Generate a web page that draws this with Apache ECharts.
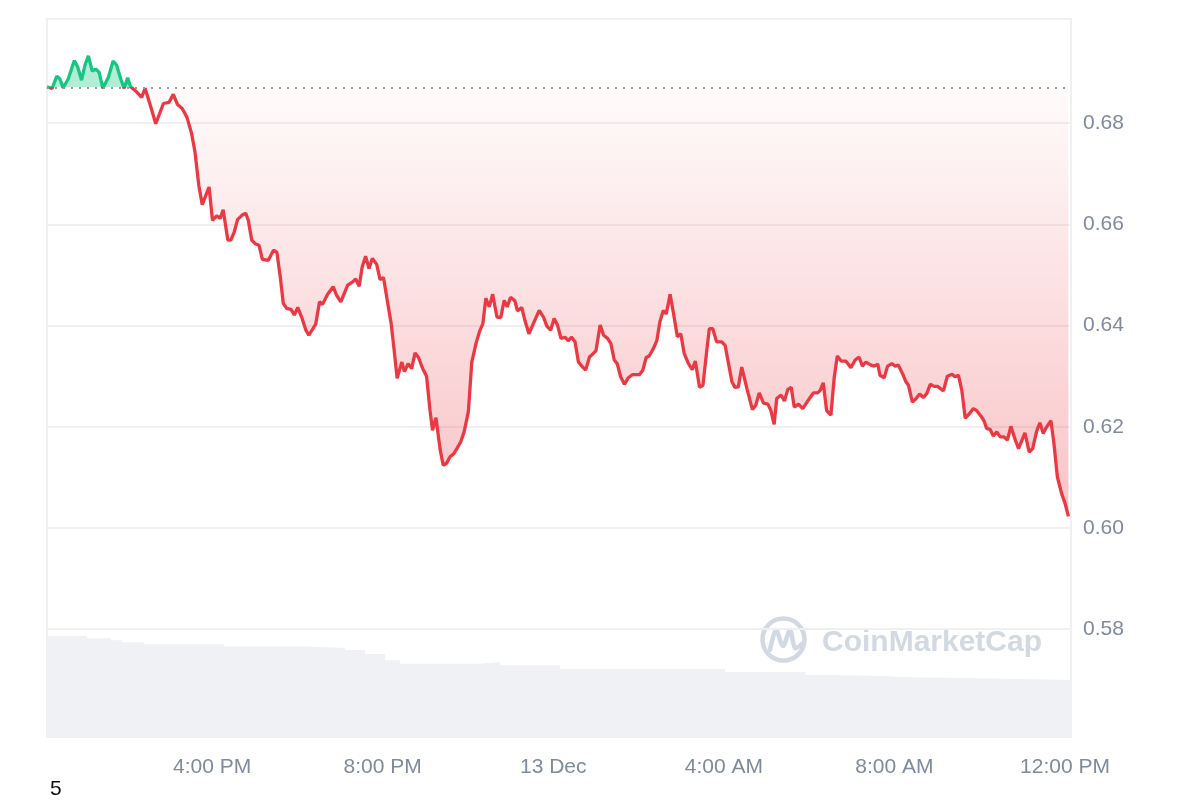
<!DOCTYPE html>
<html>
<head>
<meta charset="utf-8">
<title>Price chart</title>
<script src="https://cdn.jsdelivr.net/npm/echarts@6/dist/echarts.min.js"></script>
<style>
  html, body { margin: 0; padding: 0; background: #fff; }
  #chart { width: 1200px; height: 800px; }
</style>
</head>
<body>
<div id="chart"></div>
<script>
// price: hour of day (Dec 12, >24 = Dec 13) and value
const times = [
  12.13, 12.25, 12.36, 12.43, 12.51, 12.63, 12.77, 12.85, 12.94, 13.02, 13.10, 13.19, 13.27, 13.35, 13.44,
  13.57, 13.68, 13.76, 13.87, 13.94, 14.02, 14.09, 14.23, 14.35, 14.43, 14.55, 14.68, 14.86, 14.99, 15.09,
  15.19, 15.30, 15.41, 15.52, 15.60, 15.69, 15.77, 15.93, 16.01, 16.11, 16.19, 16.26, 16.37, 16.44, 16.52,
  16.60, 16.70, 16.79, 16.85, 16.93, 17.01, 17.10, 17.18, 17.32, 17.44, 17.52, 17.60, 17.67, 17.75, 17.85,
  17.93, 18.01, 18.10, 18.20, 18.27, 18.43, 18.52, 18.59, 18.71, 18.84, 18.92, 19.02, 19.18, 19.29, 19.37,
  19.45, 19.52, 19.60, 19.68, 19.76, 19.86, 19.94, 20.02, 20.10, 20.20, 20.27, 20.34, 20.45, 20.51, 20.60,
  20.68, 20.76, 20.84, 20.94, 21.03, 21.11, 21.17, 21.25, 21.35, 21.42, 21.50, 21.58, 21.67, 21.74, 21.83,
  21.91, 22.01, 22.09, 22.19, 22.27, 22.35, 22.42, 22.50, 22.58, 22.68, 22.77, 22.85, 22.92, 23.00, 23.10,
  23.16, 23.26, 23.34, 23.43, 23.55, 23.67, 23.77, 23.85, 23.94, 24.02, 24.10, 24.18, 24.22, 24.28, 24.35,
  24.43, 24.51, 24.59, 24.67, 24.76, 24.85, 24.93, 25.00, 25.10, 25.18, 25.27, 25.35, 25.43, 25.50, 25.58,
  25.67, 25.76, 25.86, 26.02, 26.10, 26.18, 26.25, 26.35, 26.43, 26.50, 26.58, 26.65, 26.74, 26.82, 26.91,
  26.99, 27.07, 27.17, 27.26, 27.33, 27.43, 27.51, 27.60, 27.66, 27.74, 27.83, 27.95, 28.03, 28.11, 28.19,
  28.26, 28.34, 28.42, 28.54, 28.67, 28.75, 28.83, 28.93, 29.03, 29.10, 29.18, 29.24, 29.34, 29.42, 29.50,
  29.58, 29.65, 29.75, 29.85, 29.95, 30.10, 30.20, 30.26, 30.33, 30.41, 30.51, 30.59, 30.66, 30.75, 30.86,
  30.98, 31.08, 31.17, 31.25, 31.33, 31.45, 31.53, 31.61, 31.66, 31.76, 31.84, 31.94, 32.02, 32.09, 32.19,
  32.27, 32.33, 32.42, 32.49, 32.59, 32.68, 32.76, 32.84, 32.93, 33.01, 33.15, 33.24, 33.35, 33.42, 33.50,
  33.58, 33.66, 33.76, 33.85, 33.93, 34.03, 34.10, 34.16, 34.24, 34.32, 34.40, 34.48, 34.57, 34.65, 34.73,
  34.83, 34.91, 35.06, 35.16, 35.24, 35.34, 35.41, 35.49, 35.57, 35.67, 35.74, 35.82, 35.92, 36.00, 36.08
]
const prices = [
  0.6872, 0.6869, 0.6893, 0.6888, 0.6870, 0.6888, 0.6924, 0.6911, 0.6885, 0.6915, 0.6933, 0.6903, 0.6907, 0.6901, 0.6869,
  0.6891, 0.6923, 0.6915, 0.6885, 0.6869, 0.6890, 0.6872, 0.6862, 0.6851, 0.6869, 0.6836, 0.6799, 0.6839, 0.6841, 0.6857,
  0.6837, 0.6829, 0.6812, 0.6780, 0.6743, 0.6677, 0.6639, 0.6674, 0.6608, 0.6617, 0.6612, 0.6629, 0.6569, 0.6569, 0.6585,
  0.6610, 0.6618, 0.6622, 0.6608, 0.6569, 0.6562, 0.6559, 0.6531, 0.6529, 0.6549, 0.6545, 0.6496, 0.6444, 0.6434, 0.6432,
  0.6421, 0.6436, 0.6417, 0.6391, 0.6381, 0.6403, 0.6447, 0.6442, 0.6462, 0.6477, 0.6460, 0.6447, 0.6480, 0.6486, 0.6492,
  0.6478, 0.6516, 0.6537, 0.6513, 0.6533, 0.6521, 0.6491, 0.6495, 0.6454, 0.6404, 0.6351, 0.6296, 0.6328, 0.6309, 0.6325,
  0.6315, 0.6346, 0.6337, 0.6315, 0.6300, 0.6233, 0.6193, 0.6218, 0.6154, 0.6124, 0.6128, 0.6141, 0.6147, 0.6157, 0.6170,
  0.6190, 0.6230, 0.6328, 0.6365, 0.6388, 0.6404, 0.6454, 0.6437, 0.6462, 0.6417, 0.6416, 0.6450, 0.6437, 0.6456, 0.6449,
  0.6429, 0.6436, 0.6409, 0.6384, 0.6407, 0.6430, 0.6417, 0.6399, 0.6391, 0.6414, 0.6401, 0.6375, 0.6373, 0.6377, 0.6370,
  0.6377, 0.6368, 0.6328, 0.6320, 0.6312, 0.6338, 0.6344, 0.6350, 0.6401, 0.6381, 0.6375, 0.6365, 0.6332, 0.6325, 0.6299,
  0.6284, 0.6297, 0.6303, 0.6303, 0.6312, 0.6337, 0.6340, 0.6355, 0.6371, 0.6407, 0.6430, 0.6423, 0.6462, 0.6424, 0.6378,
  0.6384, 0.6345, 0.6325, 0.6313, 0.6330, 0.6278, 0.6282, 0.6351, 0.6394, 0.6394, 0.6368, 0.6368, 0.6361, 0.6325, 0.6289,
  0.6278, 0.6279, 0.6318, 0.6276, 0.6234, 0.6243, 0.6267, 0.6247, 0.6245, 0.6233, 0.6205, 0.6256, 0.6263, 0.6251, 0.6274,
  0.6278, 0.6239, 0.6245, 0.6236, 0.6249, 0.6267, 0.6267, 0.6272, 0.6287, 0.6232, 0.6223, 0.6299, 0.6340, 0.6330, 0.6330,
  0.6317, 0.6332, 0.6338, 0.6320, 0.6328, 0.6322, 0.6320, 0.6324, 0.6302, 0.6297, 0.6320, 0.6325, 0.6320, 0.6322, 0.6305,
  0.6289, 0.6282, 0.6249, 0.6254, 0.6265, 0.6258, 0.6266, 0.6284, 0.6280, 0.6280, 0.6271, 0.6300, 0.6304, 0.6299, 0.6302,
  0.6272, 0.6217, 0.6226, 0.6236, 0.6232, 0.6221, 0.6212, 0.6197, 0.6195, 0.6182, 0.6190, 0.6180, 0.6180, 0.6174, 0.6201,
  0.6175, 0.6157, 0.6188, 0.6150, 0.6157, 0.6193, 0.6208, 0.6187, 0.6200, 0.6212, 0.6167, 0.6101, 0.6068, 0.6049, 0.6023
]
const baseline = 0.6871 // opening price, dotted line

// volume (relative units), step changes
const volTimes = [12.13, 13.07, 13.63, 13.89, 14.40, 16.28, 18.06, 19.12, 19.59, 20.06, 20.41, 22.28, 22.75, 24.16, 28.03, 29.92, 30.51, 31.75, 32.15, 34.61, 36.14]
const volValues = [14.07, 13.75, 13.47, 13.19, 12.91, 12.63, 12.40, 12.10, 11.56, 10.70, 10.20, 10.45, 10.00, 9.47, 9.05, 8.64, 8.50, 8.36, 8.12, 7.94, 7.94]

const xTicks = [16, 20, 24, 28, 32, 36]
const xTickLabels = ['4:00 PM', '8:00 PM', '13 Dec', '4:00 AM', '8:00 AM', '12:00 PM']
const yTicks = [0.58, 0.60, 0.62, 0.64, 0.66, 0.68]

const RED = '#ea3943'
const GREEN = '#16c784'
const FONT = '"Liberation Sans", Arial, sans-serif'

const chart = echarts.init(document.getElementById('chart'))

const pMax = Math.max(...prices)
const pMin = Math.min(...prices)
const baseStop = (pMax - baseline) / (pMax - pMin)

chart.setOption({
  animation: false,
  grid: {
    left: 47, right: 129, top: 19, bottom: 63,
    show: true, borderColor: '#eff0f2', borderWidth: 2, backgroundColor: 'transparent'
  },
  xAxis: {
    type: 'value',
    min: 12.13,
    max: 36.14,
    axisLine: { show: false },
    axisTick: { show: false, customValues: xTicks },
    splitLine: { show: false },
    axisLabel: {
      customValues: xTicks,
      margin: 20,
      color: '#808a9d',
      fontSize: 21,
      fontFamily: FONT,
      formatter: v => xTickLabels[xTicks.indexOf(v)] || ''
    }
  },
  yAxis: [
    {
      type: 'value',
      position: 'right',
      min: 0.5587,
      max: 0.7006,
      axisLine: { show: false },
      axisTick: { show: false, customValues: yTicks },
      splitLine: { show: true, lineStyle: { color: '#eff0f2', width: 2 } },
      axisLabel: {
        customValues: yTicks,
        margin: 12,
        color: '#808a9d',
        fontSize: 21,
        fontFamily: FONT,
        formatter: v => v.toFixed(2)
      }
    },
    { type: 'value', min: 0, max: 100, show: false, splitLine: { show: false } }
  ],
  visualMap: {
    show: false,
    seriesIndex: 1,
    dimension: 1,
    pieces: [
      { gt: baseline, lte: 1, color: GREEN },
      { gte: 0, lte: baseline, color: RED }
    ]
  },
  series: [
    {
      name: 'Volume',
      type: 'line',
      yAxisIndex: 1,
      step: 'end',
      symbol: 'none',
      silent: true,
      lineStyle: { width: 0 },
      areaStyle: { color: '#eff1f4', opacity: 1 },
      data: volTimes.map((t, i) => [t, volValues[i]]),
      z: 1
    },
    {
      name: 'Price',
      type: 'line',
      symbol: 'none',
      lineStyle: { width: 3.3 },
      areaStyle: {
        origin: baseline,
        opacity: 1,
        color: new echarts.graphic.LinearGradient(0, 0, 0, 1, [
          { offset: 0, color: 'rgba(22,199,132,0.33)' },
          { offset: baseStop, color: 'rgba(22,199,132,0.33)' },
          { offset: baseStop, color: 'rgba(234,57,67,0.02)' },
          { offset: 1, color: 'rgba(234,57,67,0.30)' }
        ])
      },
      data: times.map((t, i) => [t, prices[i]]),
      markLine: {
        silent: true,
        symbol: 'none',
        precision: 4,
        label: { show: false },
        lineStyle: { color: '#9a9a9a', type: [2, 6], width: 2 },
        data: [{ yAxis: baseline }]
      },
      z: 3
    }
  ],
  graphic: [
    {
      type: 'group',
      silent: true,
      z: 2,
      children: [
        { type: 'circle', shape: { cx: 783.5, cy: 639.5, r: 21 }, style: { fill: 'none', stroke: '#d3d9e3', lineWidth: 4.5 } },
        {
          type: 'polyline',
          shape: { points: [[770, 650], [776, 630], [783, 646], [790, 630], [795, 648], [802, 644]], smooth: 0.3 },
          style: { fill: 'none', stroke: '#d3d9e3', lineWidth: 4.5, lineCap: 'round', lineJoin: 'round' }
        },
        {
          type: 'text',
          x: 822, y: 643,
          style: { text: 'CoinMarketCap', fill: '#d3d9e3', font: 'bold 30px ' + FONT, verticalAlign: 'middle' }
        }
      ]
    },
    {
      type: 'text',
      left: 50, top: 779,
      style: { text: '5', fill: '#111', font: '21px ' + FONT }
    }
  ]
})

window.addEventListener('resize', () => chart.resize())
</script>
</body>
</html>
